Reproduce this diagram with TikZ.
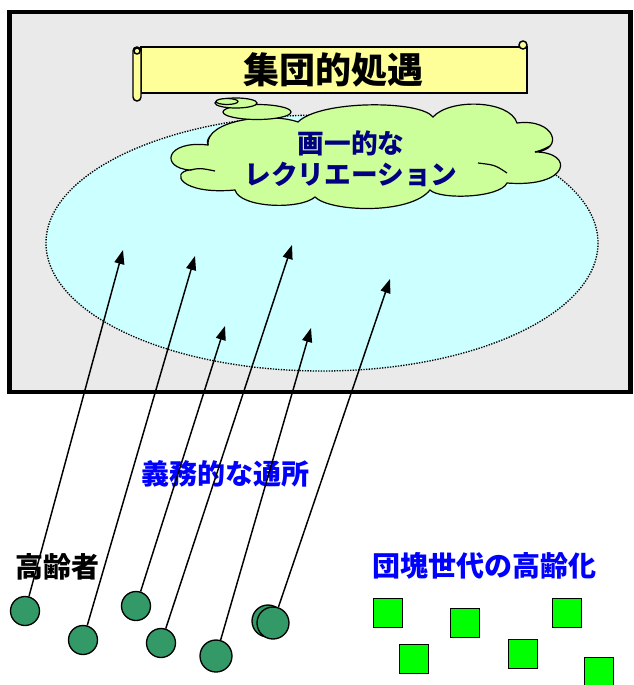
\documentclass[tikz,border=0pt]{standalone}
\usepackage{fontspec}
\newfontfamily\jp{Noto Sans CJK JP}
\usetikzlibrary{arrows.meta}
\definecolor{panelgray}{RGB}{234,234,234}
\definecolor{poolcyan}{RGB}{204,255,255}
\definecolor{cloudgreen}{RGB}{204,255,153}
\definecolor{scrollyellow}{RGB}{255,255,153}
\definecolor{elderteal}{RGB}{51,153,102}
\definecolor{boomgreen}{RGB}{0,255,0}
\definecolor{labelblue}{RGB}{0,0,255}
\definecolor{cloudnavy}{RGB}{0,0,128}

\begin{document}
\begin{tikzpicture}
    [
    x=0.75pt, y=-0.75pt,
    elder/.style={line width=1pt,circle,draw,fill=elderteal,inner sep=0pt,minimum size=21.75pt},
    boomer/.style={line width=1.1pt,rectangle,draw,fill=boomgreen,inner sep=0pt,minimum size=21.75pt},
    scroll/.style={line width=1.1pt,draw,fill=scrollyellow},
    puff/.style={line width=0.9pt,draw,fill=cloudgreen},
    tag/.style={font=\jp\bfseries\fontsize{21}{25}\selectfont},
    push/.style={line width=1.1pt,-{Triangle[length=10.5pt,width=7.5pt]}}
    ]
    \useasboundingbox (0,0) rectangle (633,685);

    % the room and the pool
    \draw [line width=3.5pt, fill=panelgray] (9.5,12) rectangle (630.5,392);
    \draw [fill=poolcyan, line width=1pt, dash pattern=on 1pt off 1pt] (322,243) ellipse [x radius=276, y radius=128];

    % banner
    \draw [scroll] (141,47) rectangle (527,93);
    \draw [scroll, rounded corners=3] (133,47) rectangle (141,101);
    \draw [scroll] (137,51) circle [radius=3];
    \draw [scroll] (523,45) circle [radius=4];
    \node (title) at (333,70) [font=\jp\bfseries\fontsize{27}{30}\selectfont] {集団的処遇};

    % cloud
    \draw [puff] (208,145) .. controls (205,120) and (270,112) .. (298,122)
        .. controls (320,100) and (420,100) .. (433,117)
        .. controls (450,98) and (510,100) .. (517,123)
        .. controls (555,118) and (565,150) .. (535,152)
        .. controls (575,152) and (570,188) .. (507,183)
        .. controls (500,198) and (440,200) .. (430,190)
        .. controls (410,215) and (330,212) .. (315,197)
        .. controls (300,210) and (240,208) .. (235,190)
        .. controls (180,195) and (170,172) .. (190,170)
        .. controls (160,168) and (165,140) .. (208,145) -- cycle;
    \draw [line width=0.9pt] (208,145) .. controls (207,141) .. (210,136);
    \draw [line width=0.9pt] (190,170) .. controls (200,168) .. (215,171);
    \draw [line width=0.9pt] (535,152) .. controls (542,150) .. (550,146);
    \draw [line width=0.9pt] (478,163) .. controls (495,165) .. (507,173);
    \node (rec) at (351,159) [align=center,text=cloudnavy,font=\jp\bfseries\fontsize{20}{23}\selectfont] {画一的な\\レクリエーション};
    \draw [puff] (257,112) ellipse [x radius=34, y radius=7.5];
    \draw [puff] (236,103) ellipse [x radius=21, y radius=5];
    \draw [puff] (227,101.5) ellipse [x radius=11, y radius=3];

    % labels
    \node (duty) at (225,474) [tag,text=labelblue] {義務的な通所};
    \node (elders) at (57,567) [tag] {高齢者};
    \node (boom) at (484,566) [tag,text=labelblue] {団塊世代の高齢化};

    % elderly people
    \node (p1) at (25,611) [elder] {};
    \node (p2) at (83,640) [elder] {};
    \node (p3) at (136,606) [elder] {};
    \node (p4) at (161,643) [elder] {};
    \node (p5) at (216,656) [elder,minimum size=24pt] {};
    \node (p6b) at (268,621) [elder,minimum size=24pt] {};
    \node (p6) at (273,623) [elder,minimum size=24pt] {};

    % baby boomers
    \node (b1) at (388,613) [boomer] {};
    \node (b2) at (465,623) [boomer] {};
    \node (b3) at (567,613) [boomer] {};
    \node (b4) at (414,659) [boomer] {};
    \node (b5) at (523,654) [boomer] {};
    \node (b6) at (599,672) [boomer] {};

    % arrows into the pool
    \coordinate (t1) at (123,250);
    \coordinate (t2) at (195,256);
    \coordinate (t3) at (225,326);
    \coordinate (t4) at (292,245);
    \coordinate (t5) at (311,328);
    \coordinate (t6) at (390,279);
    \draw [push] (p1) to (t1);
    \draw [push] (p2) to (t2);
    \draw [push] (p3) to (t3);
    \draw [push] (p4) to (t4);
    \draw [push] (p5) to (t5);
    \draw [push] (p6) to (t6);
\end{tikzpicture}
\end{document}
